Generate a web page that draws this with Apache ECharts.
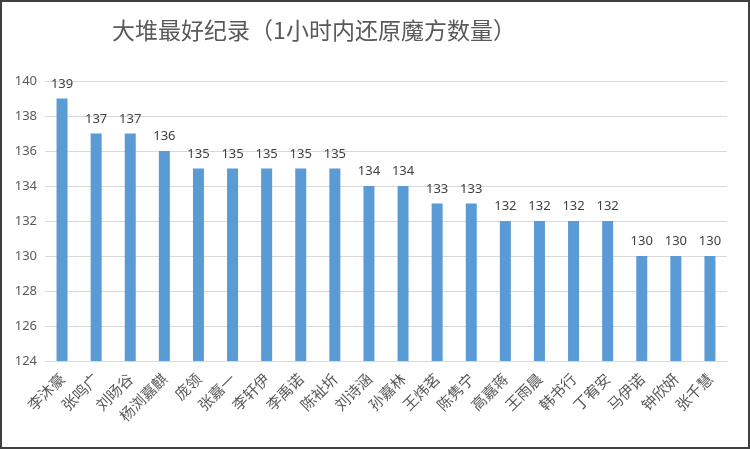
<!DOCTYPE html>
<html>
<head>
<meta charset="utf-8">
<script src="https://cdn.jsdelivr.net/npm/echarts@6/dist/echarts.min.js"></script>
<style>
  html, body { margin: 0; padding: 0; background: #fff; }
  #chart { width: 746px; height: 445px; border: 2px solid #404040; }
</style>
</head>
<body>
<div id="chart"></div>
<script>
// names along the x axis
const names = ['李沐豪', '张鸣广', '刘旸谷', '杨浏嘉麒', '庞领', '张嘉一', '李轩伊', '李禹诺', '陈祉圻', '刘诗涵',
  '孙嘉林', '王炜茗', '陈隽宁', '高嘉蒋', '王雨晨', '韩书行', '丁宥安', '马伊诺', '钟欣妍', '张千慧'];
// cubes solved in one hour
const counts = [139, 137, 137, 136, 135, 135, 135, 135, 135, 134, 134, 133, 133, 132, 132, 132, 132, 130, 130, 130];
const titleText = '大堆最好纪录（1小时内还原魔方数量）';

const chart = echarts.init(document.getElementById('chart'));
chart.setOption({
  animation: false,
  title: {
    text: titleText,
    left: 307,
    top: 12,
    textAlign: 'center',
    textStyle: { fontFamily: 'Noto Sans CJK SC', fontSize: 23, fontWeight: 'normal', color: '#595959' }
  },
  grid: { left: 43, right: 21, top: 79, bottom: 86 },
  xAxis: {
    type: 'category',
    data: names,
    axisLine: { lineStyle: { color: '#d9d9d9' } },
    axisTick: { show: false },
    axisLabel: {
      interval: 0,
      rotate: 45,
      fontFamily: 'Noto Sans CJK SC',
      fontSize: 15,
      color: '#595959',
      margin: 15
    }
  },
  yAxis: {
    type: 'value',
    min: 124,
    max: 140,
    interval: 2,
    axisLine: { show: false },
    axisTick: { show: false },
    splitLine: { lineStyle: { color: '#d9d9d9', width: 1 } },
    axisLabel: { fontFamily: 'Noto Sans', fontSize: 13, color: '#595959', margin: 8 }
  },
  series: [{
    type: 'bar',
    data: counts,
    barWidth: 11,
    itemStyle: { color: '#5b9bd5' },
    label: {
      show: true,
      position: 'top',
      distance: 8,
      fontFamily: 'Noto Sans',
      fontSize: 13,
      color: '#404040'
    }
  }]
});
</script>
</body>
</html>
